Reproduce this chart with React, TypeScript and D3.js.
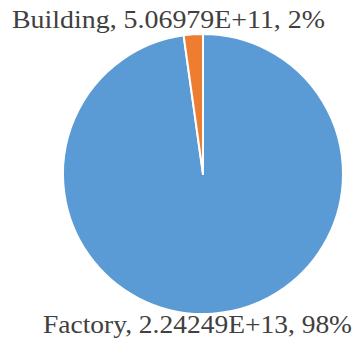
import React from "react";
import * as d3 from "d3";

const categories = ["Factory", "Building"];
const values = [2.24249e13, 5.06979e11];
const valueLabels = ["2.24249E+13", "5.06979E+11"];
const percentLabels = ["98%", "2%"];
const colors = ["#5B9BD5", "#ED7D31"];

const W = 359;
const H = 347;
const cx = 203;
const cy = 174;
const R = 140;

export default function App() {
  const pie = d3.pie<number>().sort(null).value((d) => d);
  const arcs = pie(values);
  const arcGen = d3.arc<d3.PieArcDatum<number>>().innerRadius(0).outerRadius(R);
  const labelPos = [
    { x: 197.5, y: 333, w: 309 },
    { x: 168.5, y: 28, w: 313 },
  ];
  return (
    <svg
      width={W}
      height={H}
      style={{ position: "absolute", left: 0, top: 0, background: "#fff" }}
    >
      <g transform={`translate(${cx},${cy})`}>
        {arcs.map((a, i) => (
          <path
            key={categories[i]}
            d={arcGen(a) || ""}
            fill={colors[i]}
            stroke="#fff"
            strokeWidth={2}
            strokeLinejoin="round"
          />
        ))}
      </g>
      {categories.map((c, i) => (
        <text
          key={c}
          x={labelPos[i].x}
          y={labelPos[i].y}
          textAnchor="middle"
          fontFamily="Liberation Serif"
          fontSize={26}
          textLength={labelPos[i].w}
          lengthAdjust="spacingAndGlyphs"
          fill="#404040"
        >
          {`${c}, ${valueLabels[i]}, ${percentLabels[i]}`}
        </text>
      ))}
    </svg>
  );
}
